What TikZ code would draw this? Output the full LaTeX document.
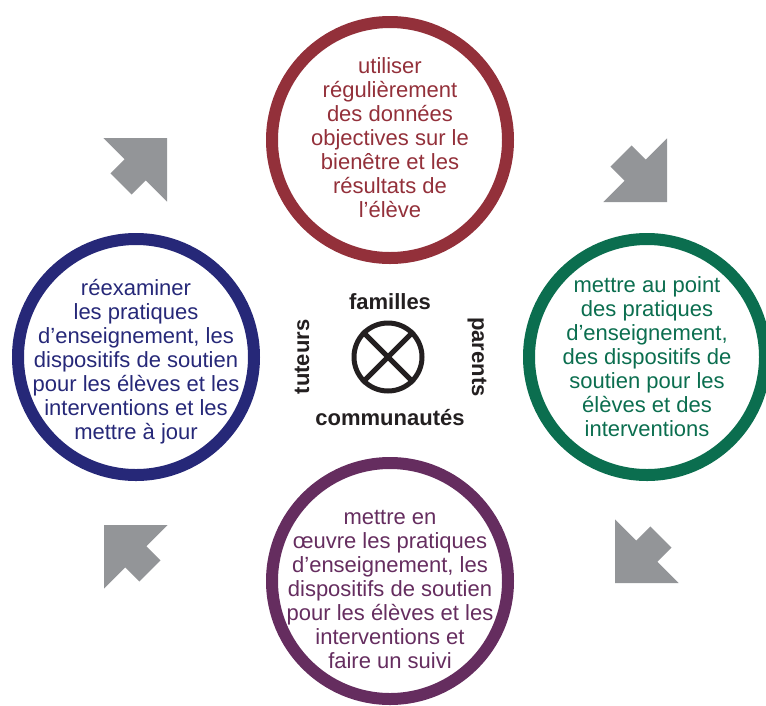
\documentclass[tikz,border=0pt]{standalone}
\usepackage{fontspec}
\setmainfont{Liberation Sans}
\definecolor{cred}{HTML}{93303A}
\definecolor{cgreen}{HTML}{0B6E4F}
\definecolor{cblue}{HTML}{262878}
\definecolor{cpurple}{HTML}{652D5F}
\definecolor{cgray}{HTML}{939598}
\definecolor{cdark}{HTML}{231F20}
\begin{document}
\begin{tikzpicture}[x=1pt,y=-1pt,
  ring/.style={circle,draw=#1,line width=12pt,minimum size=236pt,inner sep=0pt},
  ringtext/.style={text=#1,align=center,font=\fontsize{22}{24}\selectfont,inner sep=0pt},
  centerlbl/.style={text=cdark,font=\fontsize{22}{24}\selectfont\bfseries,inner sep=0pt},
  bigarrow/.style={fill=cgray}]
\useasboundingbox (0,0) rectangle (766,705);
% rings
\node[ring=cred] (top) at (390,140) {};
\node[ringtext=cred] (toptext) at (390,138) {utiliser\\régulièrement\\des données\\objectives sur le\\bienêtre et les\\résultats de\\l’élève};
\node[ring=cgreen] (right) at (647,357) {};
\node[ringtext=cgreen] (righttext) at (647,357) {mettre au point\\des pratiques\\d’enseignement,\\des dispositifs de\\soutien pour les\\élèves et des\\interventions};
\node[ring=cpurple] (bottom) at (390,581) {};
\node[ringtext=cpurple] (bottomtext) at (390,589) {mettre en\\œuvre les pratiques\\d’enseignement, les\\dispositifs de soutien\\pour les élèves et les\\interventions et\\faire un suivi};
\node[ring=cblue] (left) at (136,357) {};
\node[ringtext=cblue] (lefttext) at (136,362) {réexaminer\\les pratiques\\d’enseignement, les\\dispositifs de soutien\\pour les élèves et les\\interventions et les\\mettre à jour};
% center
\node[circle,draw=cdark,line width=5pt,minimum size=68pt,inner sep=0pt] (hub) at (388,357) {};
\draw[cdark,line width=5pt] (hub.north west) -- (hub.south east);
\draw[cdark,line width=5pt] (hub.north east) -- (hub.south west);
\node[centerlbl] (fam) at (390,302) {familles};
\node[centerlbl] (com) at (390,418) {communautés};
\node[centerlbl,rotate=90] (tut) at (302,357) {tuteurs};
\node[centerlbl,rotate=-90] (par) at (477,357) {parents};
% arrows
\foreach \tip/\ang in {{(167,138)/45},{(667,202)/-45},{(615,583)/-135},{(104,525)/135}}{
  \fill[bigarrow,shift={\tip},rotate=\ang] (0,0) -- (-45,45) -- (-45,15) -- (-65,15) -- (-65,-15) -- (-45,-15) -- (-45,-45) -- cycle;
}
\end{tikzpicture}
\end{document}
